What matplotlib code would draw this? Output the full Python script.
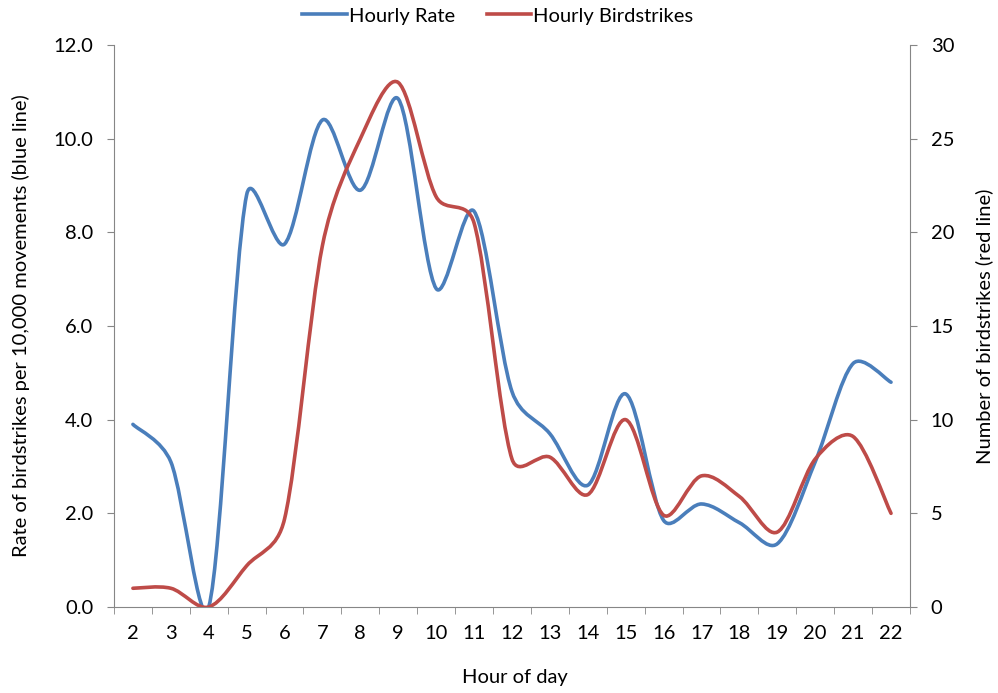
import numpy as np
import matplotlib.pyplot as plt
from matplotlib.path import Path
from matplotlib.patches import PathPatch
from matplotlib.lines import Line2D

# data
hours = [2, 3, 4, 5, 6, 7, 8, 9, 10, 11, 12, 13, 14, 15, 16, 17, 18, 19, 20, 21, 22]
hourly_rate = [3.9, 3.1, 0.0, 8.8, 7.75, 10.4, 8.9, 10.85, 6.8, 8.45, 4.6, 3.7, 2.6, 4.55,
               1.85, 2.2, 1.8, 1.35, 3.1, 5.2, 4.8]
hourly_birdstrikes = [1.0, 1.0, 0.0, 2.2, 4.7, 19.3, 25.0, 28.0, 21.9, 20.5, 7.9, 8.0, 6.0, 10.0,
                      4.9, 7.0, 5.9, 4.0, 7.9, 9.1, 5.0]

blue = '#4A7EBB'
red = '#BE4B48'
axis_grey = '#868686'
plt.rcParams['font.family'] = ['Lato', 'DejaVu Sans']
FS = 14.5

#===================================================================================================================================================#

def smooth_path(ax, x, y, soft=0.5):
    """Excel-like smoothed line: Catmull-Rom bezier segments (screen space),
    control arms shortened next to short segments"""
    pts = ax.transData.transform(np.column_stack([x, y]).astype(float))
    n = len(pts)
    seg = [np.hypot(*(pts[i + 1] - pts[i])) for i in range(n - 1)]
    verts = [pts[0]]
    codes = [Path.MOVETO]
    for i in range(n - 1):
        # arm leaving point i
        if i > 0:
            f = min(1.0, 2 * seg[i] / (seg[i - 1] + seg[i])) ** soft
            c1 = pts[i] + (pts[i + 1] - pts[i - 1]) / 6.0 * f
        else:
            c1 = pts[i] + (pts[i + 1] - pts[i]) / 6.0
        # arm arriving at point i+1
        if i + 2 < n:
            f = min(1.0, 2 * seg[i] / (seg[i] + seg[i + 1])) ** soft
            c2 = pts[i + 1] - (pts[i + 2] - pts[i]) / 6.0 * f
        else:
            c2 = pts[i + 1] - (pts[i + 1] - pts[i]) / 6.0
        verts += [c1, c2, pts[i + 1]]
        codes += [Path.CURVE4] * 3
    verts = ax.transData.inverted().transform(np.array(verts))
    return Path(verts, codes)

#===================================================================================================================================================#

fig = plt.figure(figsize=(9.98, 6.93), dpi=100)
ax = fig.add_axes([0.1142, 0.1241, 0.7976, 0.8109])
ax2 = ax.twinx()

ax.set_xlim(1.5, 22.5)
ax.set_ylim(0, 12)
ax2.set_ylim(0, 30)

ax.add_patch(PathPatch(smooth_path(ax, hours, hourly_rate), facecolor='none', edgecolor=blue,
                       linewidth=2.6, capstyle='round', joinstyle='round', zorder=3))
ax2.add_patch(PathPatch(smooth_path(ax2, hours, hourly_birdstrikes), facecolor='none', edgecolor=red,
                        linewidth=2.6, capstyle='round', joinstyle='round', zorder=2))

ax.set_xticks(hours)
ax.set_xticks(np.arange(1.5, 23, 1.0), minor=True)
ax.tick_params(axis='x', which='major', length=0, pad=13, labelsize=FS)
ax.tick_params(axis='x', which='minor', length=5, color=axis_grey, direction='out')
ax.set_yticks(np.arange(0, 12.1, 2))
ax.set_yticklabels([f'{v:.1f}' for v in np.arange(0, 12.1, 2)])
ax.tick_params(axis='y', length=5, color=axis_grey, pad=10, labelsize=FS)
ax2.set_yticks(np.arange(0, 31, 5))
ax2.tick_params(axis='y', length=5, color=axis_grey, pad=10, labelsize=FS)

for a in (ax, ax2):
    a.spines['top'].set_visible(False)
    for s in ('left', 'right', 'bottom'):
        a.spines[s].set_color(axis_grey)
ax.spines['right'].set_visible(False)
ax2.spines['left'].set_visible(False)
ax2.spines['bottom'].set_visible(False)

ax.set_xlabel("Hour of day", fontsize=FS)
ax.xaxis.set_label_coords(0.504, -0.110)
ax.set_ylabel("Rate of birdstrikes per 10,000 movements (blue line)", fontsize=FS)
ax.yaxis.set_label_coords(-0.1055, 0.5)
ax2.set_ylabel("Number of birdstrikes (red line)", fontsize=FS)
ax2.yaxis.set_label_coords(1.082, 0.5)

handles = [Line2D([], [], color=blue, linewidth=2.6), Line2D([], [], color=red, linewidth=2.6)]
fig.legend(handles, ["Hourly Rate", "Hourly Birdstrikes"], loc='center', ncol=2,
           bbox_to_anchor=(0.499, 1 - 16 / 693), frameon=False, fontsize=FS,
           handlelength=2.2, handletextpad=0.1, columnspacing=1.6)

fig.savefig('out.png', dpi=100)
